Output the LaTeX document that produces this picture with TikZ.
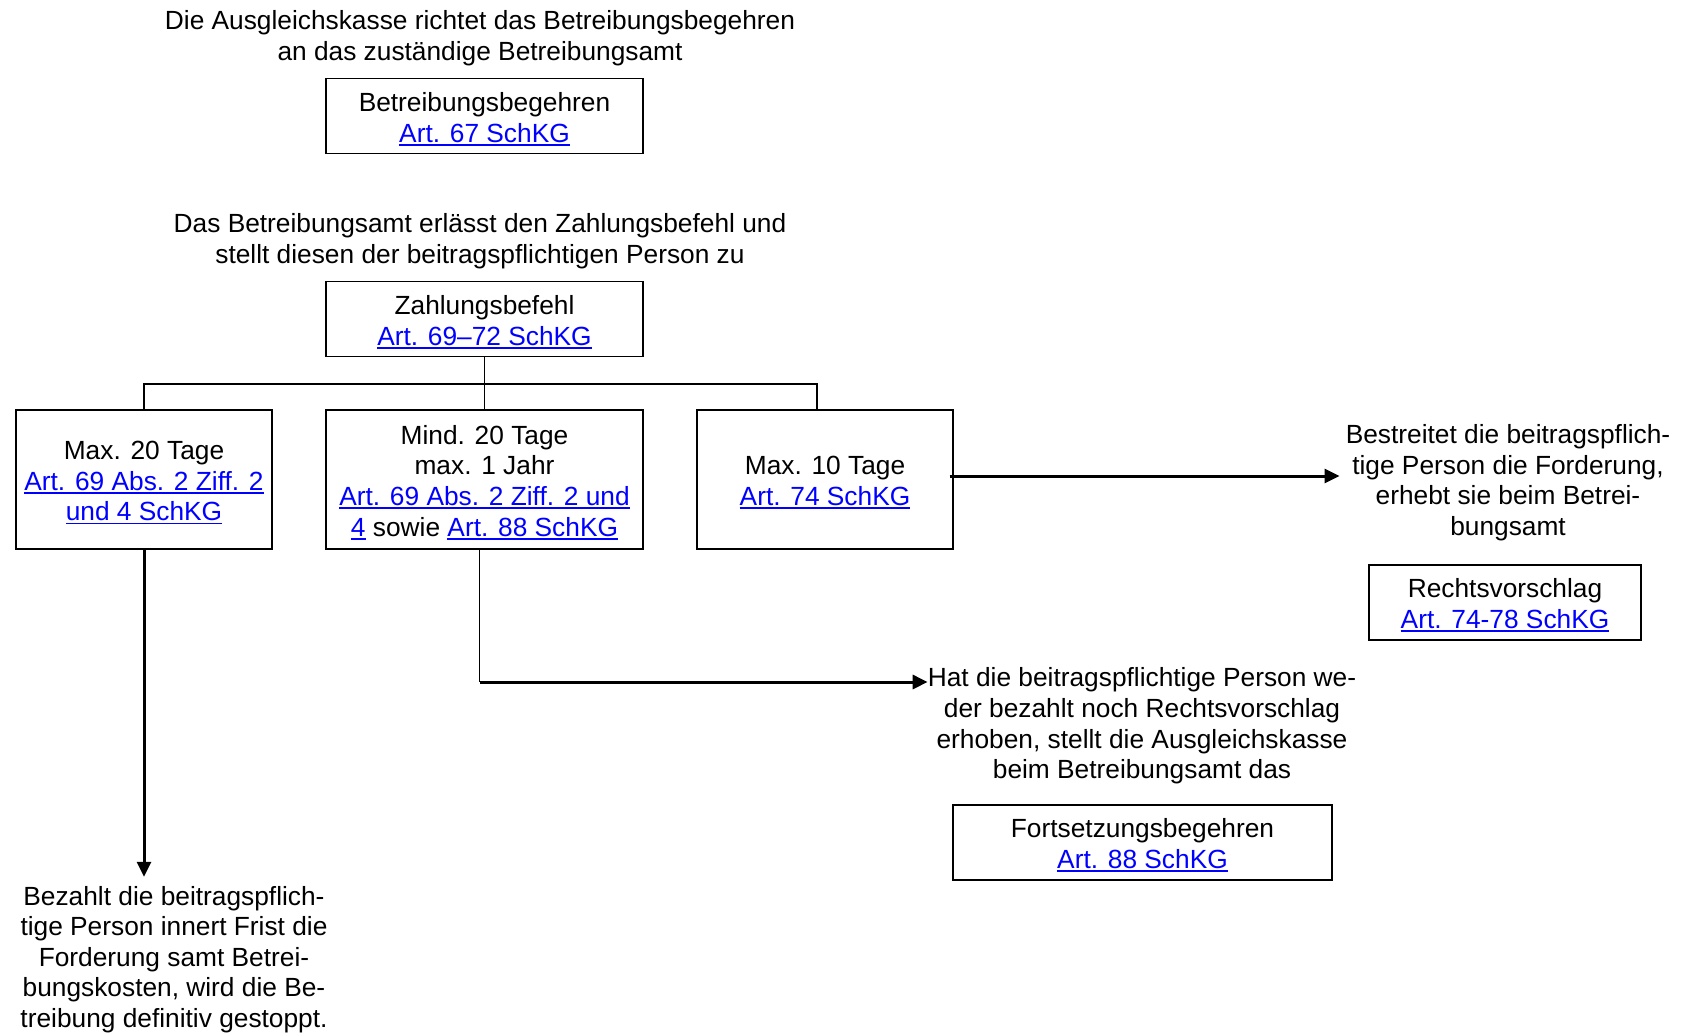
\documentclass[tikz,border=0pt]{standalone}
\usepackage{fontspec}
\setmainfont{Liberation Sans}
\usetikzlibrary{arrows.meta}
\newcommand\lnk[1]{\textcolor{blue}{\setbox0\hbox{#1}\rlap{\rule[-3.5pt]{\wd0}{1.8pt}}\box0}}
\newcommand\tst{\rule{0pt}{25pt}}
\begin{document}
\begin{tikzpicture}[x=1pt,y=-1pt,
  every node/.style={font=\fontsize{26.3}{30.6}\selectfont, align=center, inner sep=0pt},
  box/.style={draw, line width=1.3pt, minimum height=75pt},
  tree/.style={line width=1.2pt},
  arr/.style={line width=3pt, -{Triangle[length=15pt,width=14pt]}}]
\useasboundingbox (0,0) rectangle (1681,1033);
\node (t1) at (480,38) {Die Ausgleichskasse richtet das Betreibungsbegehren\\an das zuständige Betreibungsamt};
\node[box, minimum width=317pt] (b1) at (484.5,116) {\tst Betreibungsbegehren\\\lnk{Art. 67 SchKG}};
\node (t2) at (480,241) {Das Betreibungsamt erlässt den Zahlungsbefehl und\\stellt diesen der beitragspflichtigen Person zu};
\node[box, minimum width=317pt] (b2) at (484.5,319) {\tst Zahlungsbefehl\\\lnk{Art. 69–72 SchKG}};
\node[box, minimum width=256pt, minimum height=139pt] (b3) at (144,479.5) {\tst Max. 20 Tage\\\lnk{Art. 69 Abs. 2 Ziff. 2}\\\lnk{und 4 SchKG}};
\node[box, minimum width=317pt, minimum height=139pt] (b4) at (484.5,479.5) {\tst Mind. 20 Tage\\max. 1 Jahr\\\lnk{Art. 69 Abs. 2 Ziff. 2 und}\\\lnk{4} sowie \lnk{Art. 88 SchKG}};
\node[box, minimum width=256pt, minimum height=139pt] (b5) at (825,479.5) {\tst Max. 10 Tage\\\lnk{Art. 74 SchKG}};
\node (t3) at (1508,482.5) {Bestreitet die beitragspflich-\\tige Person die Forderung,\\erhebt sie beim Betrei-\\bungsamt};
\node[box, minimum width=272pt] (b6) at (1505,602.5) {\tst Rechtsvorschlag\\\lnk{Art. 74-78 SchKG}};
\node (t4) at (1142,726) {Hat die beitragspflichtige Person we-\\der bezahlt noch Rechtsvorschlag\\erhoben, stellt die Ausgleichskasse\\beim Betreibungsamt das};
\node[box, minimum width=379pt] (b7) at (1142.5,842.5) {\tst Fortsetzungsbegehren\\\lnk{Art. 88 SchKG}};
\node (t5) at (174,959.5) {Bezahlt die beitragspflich-\\tige Person innert Frist die\\Forderung samt Betrei-\\bungskosten, wird die Be-\\treibung definitiv gestoppt.};
\coordinate (bus) at (0,384);
\coordinate (y682) at (0,682);
\coordinate (y476) at (0,476);
\draw[tree] (b2.south) -- (b2.south |- bus);
\draw[tree] (b3.north) -- (b3.north |- bus) -- ([xshift=-8pt]b5.north |- bus) -- ([xshift=-8pt]b5.north);
\draw[tree] (b4.south |- bus) -- (b4.north);
\draw[arr] ([xshift=-4pt]b5.east |- y476) -- ([xshift=-6pt]t3.west |- y476);
\draw[arr, shorten >=9pt] (b3.south) -- (b3.south |- t5.north);
\draw[line width=1.3pt] ([xshift=-5pt]b4.south) -- ([xshift=-5pt]b4.south |- y682);
\draw[arr] ([xshift=-5pt]b4.south |- y682) -- (t4.west |- y682);
\end{tikzpicture}
\end{document}
